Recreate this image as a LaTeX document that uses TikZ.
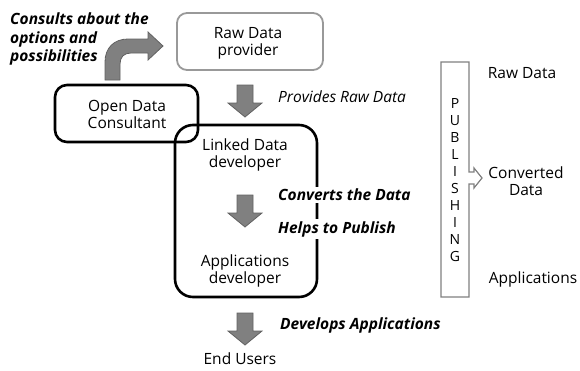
\documentclass[tikz,border=0pt]{standalone}
\usepackage{fontspec}
\setmainfont{Open Sans}
\begin{document}
\begin{tikzpicture}[x=1pt,y=-1pt,
  txt/.style={font=\fontsize{15.5}{17}\selectfont, align=center, inner sep=1pt},
  lbl/.style={font=\fontsize{15.5}{18}\selectfont\bfseries\itshape, align=left, inner sep=2pt, anchor=west},
  arrfill/.style={fill=black!50, draw=black!62, line width=0.8pt, line join=miter},
  blackbox/.style={draw=black, line width=2.6pt},
  downarr/.pic={\path[arrfill] (-8,0) -- (8,0) -- (8,18) -- (17,18) -- (0,32) -- (-17,18) -- (-8,18) -- cycle;}
]
\useasboundingbox (0,0) rectangle (580,370);
% boxes
\draw[draw=black!40, line width=1.8pt, rounded corners=10pt] (177,13) rectangle (323,70);
\node[txt] (raw) at (248,43) {Raw Data\\provider};
\draw[blackbox, rounded corners=12pt] (55,85) rectangle (198,142);
\node[txt] (odc) at (127,114) {Open Data\\Consultant};
\draw[blackbox, rounded corners=18pt] (175,125) rectangle (317,297);
\node[txt] (ldd) at (245,155) {Linked Data\\developer};
\node[txt] (apd) at (245,271) {Applications\\developer};
\node[txt] (eu) at (240,359) {End Users};
% curved arrow
\path[arrfill] (105,80) -- (105,62) .. controls (105,48) and (114,39) .. (128,39) -- (148,39) -- (148,32) -- (163,46) -- (148,60) -- (148,53) -- (131,53) .. controls (124,53) and (120,57) .. (120,64) -- (120,80) -- cycle;
% down arrows
\pic at (245,85) {downarr};
\pic at (245,195) {downarr};
\pic at (245,313) {downarr};
% labels
\node[lbl, align=left, anchor=north west, font=\fontsize{15.5}{18.5}\selectfont\bfseries\itshape] (cons) at (8,11) {Consults about the\\options and\\possibilities};
\node[lbl, font=\fontsize{15.5}{17}\selectfont\itshape] (prov) at (276,97) {Provides Raw Data};
\node[lbl, fill=white] (conv) at (276,195) {Converts the Data};
\node[lbl, fill=white] (help) at (276,229) {Helps to Publish};
\node[lbl] (dev) at (278,325) {Develops Applications};
% publishing column
\draw[draw=black!50, line width=1.2pt, line join=miter] (441,62) -- (469,62) -- (469,172) -- (474,172) -- (474,168) -- (482,178) -- (474,188) -- (474,184) -- (469,184) -- (469,297) -- (441,297) -- cycle;
\foreach \l [count=\i from 0] in {P,U,B,L,I,S,H,I,N,G}
  \node[txt, font=\fontsize{14}{17}\selectfont] (pub\i) at (455,103+17.1*\i) {\l};
\node[txt] (rawd) at (522,73) {Raw Data};
\node[txt] (convd) at (526,181) {Converted\\Data};
\node[txt] (appl) at (533,279) {Applications};
\end{tikzpicture}
\end{document}
